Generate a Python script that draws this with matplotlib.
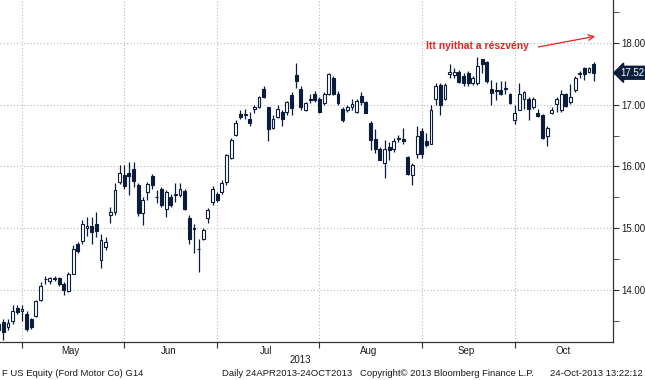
import matplotlib
matplotlib.use('Agg')
import matplotlib.pyplot as plt
import pandas as pd

plt.rcParams['font.family'] = ['Liberation Sans', 'DejaVu Sans']

# Trading days (US holidays removed)
holidays = ['2013-05-27', '2013-07-04', '2013-09-02']
dates = [d for d in pd.bdate_range('2013-04-24', '2013-10-24') if d.strftime('%Y-%m-%d') not in holidays]

opens = [13.35, 13.48, 13.40, 13.50, 13.71, 13.66, 13.61, 13.52, 13.57, 13.83,
         14.17, 14.14, 14.19, 14.19, 14.09, 13.98, 14.26, 14.75, 14.79, 15.00,
         15.04, 15.07, 14.49, 14.69, 15.22, 15.26, 15.75, 15.87, 15.90, 15.96,
         15.70, 15.24, 15.59, 15.85, 15.50, 15.63, 15.31, 15.51, 15.53, 15.54,
         15.60, 15.17, 15.00, 14.67, 14.83, 15.16, 15.43, 15.55, 15.59, 15.75,
         16.13, 16.51, 16.85, 16.85, 16.77, 16.94, 16.97, 17.25, 16.96, 16.63,
         16.81, 16.89, 16.88, 17.16, 17.49, 17.26, 16.92, 17.08, 17.18, 17.09,
         17.03, 17.18, 17.44, 17.18, 16.94, 16.92, 16.96, 16.89, 17.15, 17.05,
         16.71, 16.45, 16.29, 16.05, 16.32, 16.28, 16.45, 16.44, 16.16, 15.86,
         16.20, 16.58, 16.42, 16.37, 17.10, 17.32, 17.10, 17.50, 17.48, 17.53,
         17.46, 17.52, 17.35, 17.35, 17.74, 17.70, 17.26, 17.24, 17.24, 17.25,
         17.17, 16.76, 16.92, 17.09, 17.10, 16.97, 16.87, 16.83, 16.49, 16.86,
         17.01, 16.92, 17.18, 17.05, 17.24, 17.50, 17.59, 17.54, 17.66]
highs = [13.50, 13.53, 13.53, 13.75, 13.76, 13.75, 13.66, 13.55, 13.83, 14.12,
         14.23, 14.21, 14.23, 14.21, 14.12, 14.29, 14.72, 14.77, 15.14, 15.18,
         15.18, 15.27, 14.91, 14.86, 15.34, 15.73, 16.02, 16.03, 16.07, 16.07,
         15.74, 15.50, 15.75, 15.88, 15.62, 15.67, 15.62, 15.55, 15.73, 15.73,
         15.64, 15.21, 15.07, 14.82, 15.00, 15.32, 15.69, 15.59, 15.78, 16.21,
         16.46, 16.76, 16.92, 16.93, 16.88, 17.00, 17.14, 17.30, 16.97, 16.84,
         17.00, 16.92, 17.07, 17.21, 17.68, 17.30, 17.05, 17.17, 17.23, 17.13,
         17.21, 17.51, 17.46, 17.23, 16.97, 16.99, 17.10, 17.10, 17.21, 17.06,
         16.74, 16.60, 16.32, 16.43, 16.40, 16.47, 16.51, 16.62, 16.17, 16.05,
         16.65, 16.62, 16.54, 16.99, 17.35, 17.35, 17.35, 17.66, 17.59, 17.56,
         17.52, 17.55, 17.46, 17.78, 17.75, 17.71, 17.41, 17.37, 17.39, 17.39,
         17.19, 16.99, 17.35, 17.23, 17.13, 17.13, 16.94, 16.85, 16.65, 16.97,
         17.13, 17.24, 17.19, 17.34, 17.46, 17.55, 17.62, 17.62, 17.70]
lows = [13.28, 13.18, 13.35, 13.45, 13.61, 13.50, 13.34, 13.36, 13.56, 13.82,
        14.10, 14.10, 14.15, 14.07, 13.91, 13.96, 14.25, 14.60, 14.75, 14.88,
        14.75, 14.85, 14.36, 14.65, 15.08, 15.22, 15.72, 15.63, 15.53, 15.66,
        15.19, 15.05, 15.45, 15.64, 15.41, 15.35, 15.18, 15.35, 15.43, 15.51,
        15.29, 14.75, 14.59, 14.29, 14.80, 15.08, 15.37, 15.43, 15.55, 15.70,
        16.12, 16.49, 16.77, 16.77, 16.65, 16.86, 16.95, 17.11, 16.41, 16.61,
        16.78, 16.65, 16.84, 16.84, 17.27, 16.92, 16.90, 17.03, 17.05, 16.86,
        17.00, 17.16, 17.16, 17.00, 16.72, 16.89, 16.91, 16.86, 16.99, 16.86,
        16.26, 16.22, 16.10, 15.81, 16.11, 16.24, 16.40, 16.37, 15.86, 15.70,
        16.13, 16.13, 16.32, 16.36, 16.99, 16.83, 17.08, 17.43, 17.43, 17.35,
        17.30, 17.30, 17.32, 17.32, 17.52, 17.35, 16.99, 17.08, 17.16, 17.18,
        17.01, 16.69, 16.91, 16.94, 16.76, 16.94, 16.80, 16.44, 16.33, 16.85,
        16.89, 16.89, 16.96, 17.02, 17.21, 17.43, 17.41, 17.51, 17.39]
closes = [13.45, 13.31, 13.46, 13.65, 13.64, 13.69, 13.37, 13.39, 13.82, 14.07,
          14.18, 14.19, 14.18, 14.10, 14.00, 14.25, 14.66, 14.63, 15.07, 15.03,
          14.94, 14.96, 14.80, 14.78, 15.27, 15.62, 15.89, 15.68, 15.85, 15.77,
          15.24, 15.45, 15.72, 15.70, 15.51, 15.37, 15.59, 15.37, 15.55, 15.64,
          15.31, 14.82, 14.99, 14.66, 14.97, 15.29, 15.64, 15.46, 15.73, 16.19,
          16.43, 16.70, 16.81, 16.84, 16.71, 16.96, 17.12, 17.12, 16.61, 16.77,
          16.93, 16.77, 17.04, 16.95, 17.38, 16.97, 17.03, 17.09, 17.08, 16.89,
          17.18, 17.50, 17.18, 17.03, 16.76, 16.97, 17.02, 17.06, 17.05, 16.87,
          16.43, 16.28, 16.11, 16.29, 16.26, 16.42, 16.47, 16.42, 15.88, 16.02,
          16.49, 16.21, 16.35, 16.91, 17.30, 16.99, 17.32, 17.54, 17.53, 17.37,
          17.35, 17.35, 17.44, 17.63, 17.67, 17.39, 17.19, 17.23, 17.18, 17.27,
          17.03, 16.86, 17.18, 17.21, 16.94, 17.09, 16.82, 16.47, 16.62, 16.92,
          17.10, 17.18, 16.98, 17.13, 17.44, 17.51, 17.50, 17.59, 17.52]

y_ticks = [14, 15, 16, 17, 18]

NAVY = '#0b1d3d'
GRID = '#b8b8b8'
TXT = '#1a1a1a'
Y0, Y1 = 13.154, 18.70

fig = plt.figure(figsize=(6.45, 3.8), dpi=100)
ax = fig.add_axes([0.0, 0.1, 0.95, 0.9])

# Candles
idx = list(range(len(dates)))
ax.vlines(idx, lows, highs, color=NAVY, linewidth=0.9, zorder=2)
bottoms = [min(o, c) for o, c in zip(opens, closes)]
heights = [max(abs(c - o), 0.005) for o, c in zip(opens, closes)]
faces = ['white' if c >= o else NAVY for o, c in zip(opens, closes)]
ax.bar(idx, heights, bottom=bottoms, width=0.62, color=faces,
       edgecolor=NAVY, linewidth=0.8, zorder=3)

# Month boundaries and label positions
starts = [i for i in range(1, len(dates)) if dates[i].month != dates[i - 1].month]
mids = []
for k, s in enumerate(starts):
    e = starts[k + 1] if k + 1 < len(starts) else s + 22
    mids.append(s + (e - s) / 2 - 0.5)
names = [dates[s].strftime('%b') for s in starts]

ax.set_xticks(starts)
ax.set_xticklabels([''] * len(starts))
ax.set_xticks(mids, minor=True)
ax.set_xticklabels(names, minor=True)
ax.tick_params(axis='x', which='major', direction='out', length=4, color='#333333')
ax.tick_params(axis='x', which='minor', length=0, labelsize=7, pad=3, colors=TXT)

ax.yaxis.tick_right()
ax.set_yticks(y_ticks)
ax.set_yticklabels([f'{v:.2f}' for v in y_ticks])
ax.set_yticks([v + 0.5 for v in [13] + y_ticks], minor=True)
ax.tick_params(axis='y', which='both', direction='out', length=4, color='#333333',
               labelsize=7, pad=2, labelcolor=TXT)

ax.grid(True, which='major', color=GRID, linestyle=(0, (1, 2)), linewidth=0.8)
ax.set_axisbelow(True)

ax.set_xlim(0.27, 132.1)
ax.set_ylim(Y0, Y1)

for side in ['left', 'top']:
    ax.spines[side].set_visible(False)
for side in ['right', 'bottom']:
    ax.spines[side].set_color('#333333')
    ax.spines[side].set_linewidth(0.9)

# Last price tag
ax.text(1.013, (closes[-1] - Y0) / (Y1 - Y0), f'{closes[-1]:.2f}',
        transform=ax.transAxes, ha='left', va='center', fontsize=7, color='white',
        bbox=dict(boxstyle='larrow,pad=0.15', facecolor=NAVY, edgecolor=NAVY))

# Annotation
ax.text(103, 17.95, 'Itt nyithat a részvény', color='#e52222', fontsize=7.5,
        fontweight='bold', ha='center', va='center')
ax.annotate('', xy=(128.9, 18.12), xytext=(115.5, 17.93),
            arrowprops=dict(arrowstyle='->', color='#e52222', lw=0.9))

# Footer
fig.text(0.466, 0.052, '2013', ha='center', va='center', fontsize=7, color=TXT)
fig.text(0.003, 0.018, 'F US Equity (Ford Motor Co) G14', ha='left', va='center', fontsize=6.8, color=TXT)
fig.text(0.344, 0.018, 'Daily 24APR2013-24OCT2013', ha='left', va='center', fontsize=6.8, color=TXT)
fig.text(0.558, 0.018, 'Copyright\u00a9 2013 Bloomberg Finance L.P.', ha='left', va='center', fontsize=6.8, color=TXT)
fig.text(0.997, 0.018, '24-Oct-2013 13:22:12', ha='right', va='center', fontsize=6.8, color=TXT)

fig.savefig('out.png', dpi=100)
